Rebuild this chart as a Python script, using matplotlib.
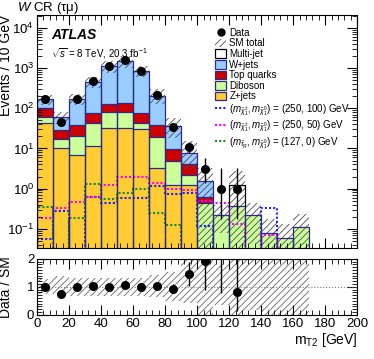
import matplotlib
matplotlib.use("Agg")
import matplotlib.pyplot as plt
import numpy as np
from matplotlib.lines import Line2D
from matplotlib.patches import Patch
from matplotlib.ticker import MultipleLocator, LogLocator, NullFormatter

plt.rcParams['font.family'] = ['Liberation Sans', 'DejaVu Sans']
plt.rcParams['mathtext.fontset'] = 'custom'
plt.rcParams['mathtext.rm'] = 'Liberation Sans'
plt.rcParams['mathtext.it'] = 'Liberation Sans:italic'
plt.rcParams['mathtext.bf'] = 'Liberation Sans:bold'
plt.rcParams['hatch.linewidth'] = 0.6

# bin edges of m_T2 [GeV]
edges = np.arange(0, 210, 10)

# background components per bin (events / 10 GeV)
zjets = [42, 10.4, 6.7, 11.2, 32, 32, 30, 3.2, 1.2, 1.2, 0, 0, 0, 0, 0, 0, 0, 0, 0, 0]
diboson = [18, 7.1, 14.3, 30.8, 47, 47, 12, 15.8, 3.8, 1.0, 0.43, 0.22, 0.37, 0.22, 0.078, 0.059, 0.11, 0.01, 0, 0]
top = [40, 10.5, 16.6, 34, 47, 53, 36, 18.6, 4.8, 2.0, 0.2, 0, 0, 0, 0, 0, 0, 0, 0, 0]
wjets = [68, 32, 134, 384, 994, 1368, 782, 167, 26.7, 3.4, 0.93, 0, 0, 0, 0, 0, 0, 0, 0, 0]
multijet = [0, 0, 0, 0, 0, 0, 0, 0, 0, 0, 0, 0, 0.87, 0, 0, 0, 0, 0, 0, 0]

# relative SM uncertainty (up / down)
sm_err_up = [0.28, 0.37, 0.33, 0.33, 0.33, 0.33, 0.33, 0.44, 0.54, 1.0, 1.1, 0.82, 1.2, 0.95, 1.2, 1.2, 1.1, 1.2, 0, 0]
sm_err_dn = [0.27, 0.33, 0.31, 0.31, 0.31, 0.31, 0.31, 0.37, 0.49, 0.59, 1.0, 0.65, 1.0, 0.81, 1.0, 1.0, 1.0, 1.0, 0, 0]

# data
data = [168, 45, 168, 480, 1120, 1580, 840, 210, 34, 11, 3, 1, 1, 0, 0, 0, 0, 0, 0, 0]
data_err_lo = [13, 6.7, 13, 22, 33, 40, 29, 14.5, 5.8, 3.3, 1.63, 0.83, 0.83, 0, 0, 0, 0, 0, 0, 0]
data_err_hi = [13, 6.7, 13, 22, 33, 40, 29, 14.5, 5.8, 3.3, 2.92, 2.30, 2.30, 0, 0, 0, 0, 0, 0, 0]

# signal models
sig_250_100 = [0.054, 0.28, 0, 0.61, 0.43, 0.58, 0.58, 1.15, 0.72, 0.76, 0.115, 0, 0, 0, 0.32, 0, 0, 0, 0, 0]
sig_250_50 = [0.19, 0.33, 0.47, 0.63, 1.22, 2.0, 1.9, 1.4, 1.0, 0.9, 0.5, 0.43, 0.13, 0, 0.07, 0, 0, 0, 0, 0]
sig_127_0 = [0.35, 0, 0.18, 1.32, 0.55, 0.77, 1.0, 0.25, 0.125, 0, 0, 0, 0, 0, 0, 0, 0, 0, 0, 0]

c_w = '#99ccff'
c_top = '#cc0000'
c_dib = '#ccff99'
c_z = '#ffcc33'
c_edge = '#2b2b8f'

fig = plt.figure(figsize=(3.74, 3.59), dpi=100)
ax = fig.add_axes([0.099, 0.309, 0.856, 0.649])
rax = fig.add_axes([0.099, 0.123, 0.856, 0.156])

floor = 1e-4
comps = [(zjets, c_z, c_edge), (diboson, c_dib, c_edge), (top, c_top, c_edge),
         (wjets, c_w, c_edge), (multijet, 'white', 'black')]
cum = np.zeros(len(edges) - 1)
for vals, col, ec in comps:
    new = cum + np.array(vals)
    ax.stairs(np.maximum(new, floor), edges, baseline=np.maximum(cum, floor),
              fill=True, color=col, lw=0)
    cum = new
cum = np.zeros(len(edges) - 1)
for vals, col, ec in comps:
    v = np.array(vals)
    new = cum + v
    for i in range(len(v)):
        if v[i] > 0:
            ax.plot([edges[i], edges[i], edges[i+1], edges[i+1]],
                    [max(cum[i], floor), new[i], new[i], max(cum[i], floor)],
                    color=ec, lw=0.9)
    cum = new
sm = cum

# uncertainty band
up = sm * (1 + np.array(sm_err_up))
dn = np.maximum(sm * (1 - np.array(sm_err_dn)), floor)
mask = sm > 0
up_b = np.where(mask, up, np.nan)
dn_b = np.where(mask, dn, np.nan)
ax.fill_between(edges, np.append(dn_b, dn_b[-1]), np.append(up_b, up_b[-1]), step='post',
                facecolor='none', edgecolor='0.3', hatch='/////', lw=0)

# signals
for sig, col in [(sig_250_100, '#1f1fff'), (sig_250_50, '#ff00ff'), (sig_127_0, '#1a8a1a')]:
    ax.stairs(np.maximum(np.array(sig), floor), edges, color=col, lw=1.5, ls=(0, (1, 1)))

# data
centers = 0.5 * (edges[:-1] + edges[1:])
d = np.array(data, dtype=float)
dm = d > 0
ax.errorbar(centers[dm], d[dm], yerr=[np.array(data_err_lo)[dm], np.array(data_err_hi)[dm]],
            fmt='o', color='black', ms=5.5, lw=1.0, capsize=0)

ax.set_yscale('log')
ax.set_xlim(0, 200)
ax.set_ylim(0.033, 2.1e4)
ax.set_ylabel('Events / 10 GeV', fontsize=10, loc='top')
ax.tick_params(labelbottom=False)

# ratio
sm_safe = np.where(sm > 0, sm, np.nan)
r_up = np.where(edges[:-1] < 180, 1 + np.array(sm_err_up), np.nan)
r_dn = np.where(edges[:-1] < 180, 1 - np.array(sm_err_dn), np.nan)
rax.fill_between(edges, np.append(r_dn, r_dn[-1]), np.append(r_up, r_up[-1]), step='post',
                 facecolor='none', edgecolor='0.4', hatch='/////', lw=0)
rax.axhline(1, color='0.5', ls=':', lw=0.8)
ratio = d / sm_safe
rax.errorbar(centers[dm], ratio[dm],
             yerr=[np.array(data_err_lo)[dm] / sm_safe[dm], np.array(data_err_hi)[dm] / sm_safe[dm]],
             fmt='o', color='black', ms=5.5, lw=1.0, capsize=0)
rax.set_xlim(0, 200)
rax.set_ylim(0, 2)
rax.set_ylabel('Data / SM', fontsize=10)
rax.set_xlabel('m$_{\\mathrm{T2}}$ [GeV]', fontsize=10, loc='right', labelpad=1)
rax.yaxis.set_major_locator(MultipleLocator(1))
rax.yaxis.set_minor_locator(MultipleLocator(0.1))

for a in (ax, rax):
    a.xaxis.set_major_locator(MultipleLocator(20))
    a.xaxis.set_minor_locator(MultipleLocator(4))
    a.tick_params(which='both', direction='in', top=True, right=True, labelsize=9.5)
    a.tick_params(which='major', length=7, width=0.8, pad=2)
    a.tick_params(which='minor', length=3.5, width=0.6)
    for s in a.spines.values():
        s.set_linewidth(0.8)
ax.yaxis.set_minor_locator(LogLocator(base=10, subs=np.arange(2, 10)))
ax.yaxis.set_minor_formatter(NullFormatter())
ax.yaxis.set_label_coords(-0.075, 1.0)
rax.yaxis.set_label_coords(-0.075, 0.5)

# texts
fig.text(0.045, 0.978, '$W$ CR (τμ)', fontsize=9.5, va='center')
ax.text(0.045, 0.915, 'ATLAS', transform=ax.transAxes, fontsize=10, fontweight='bold',
        fontstyle='italic', va='center')
ax.text(0.045, 0.835, '$\\sqrt{s}$ = 8 TeV, 20.3 fb$^{-1}$', transform=ax.transAxes,
        fontsize=7, va='center')

handles = [
    Line2D([], [], marker='o', color='black', ls='none', ms=5),
    Patch(facecolor='none', edgecolor='0.3', hatch='/////', lw=0),
    Patch(facecolor='white', edgecolor='black', lw=0.9),
    Patch(facecolor=c_w, edgecolor=c_edge, lw=0.9),
    Patch(facecolor=c_top, edgecolor=c_edge, lw=0.9),
    Patch(facecolor=c_dib, edgecolor=c_edge, lw=0.9),
    Patch(facecolor=c_z, edgecolor=c_edge, lw=0.9),
    Line2D([], [], color='#1f1fff', lw=1.5, ls=(0, (1, 1))),
    Line2D([], [], color='#ff00ff', lw=1.5, ls=(0, (1, 1))),
    Line2D([], [], color='#1a8a1a', lw=1.5, ls=(0, (1, 1))),
]
labels = [
    'Data', 'SM total', 'Multi-jet', 'W+jets', 'Top quarks', 'Diboson', 'Z+jets',
    '$(m_{\\tilde{\\chi}^{\\pm}_{1}}, m_{\\tilde{\\chi}^{0}_{1}})$ = (250, 100) GeV',
    '$(m_{\\tilde{\\chi}^{\\pm}_{1}}, m_{\\tilde{\\chi}^{0}_{1}})$ = (250, 50) GeV',
    '$(m_{\\tilde{\\tau}_{R}}, m_{\\tilde{\\chi}^{0}_{1}})$ = (127, 0) GeV',
]
ax.legend(handles, labels, loc='upper left', bbox_to_anchor=(0.555, 0.945), frameon=False,
          fontsize=7, handlelength=1.2, handleheight=1.0, handletextpad=0.3,
          labelspacing=0.06, borderaxespad=0, borderpad=0)

fig.savefig('out.png', dpi=100)
